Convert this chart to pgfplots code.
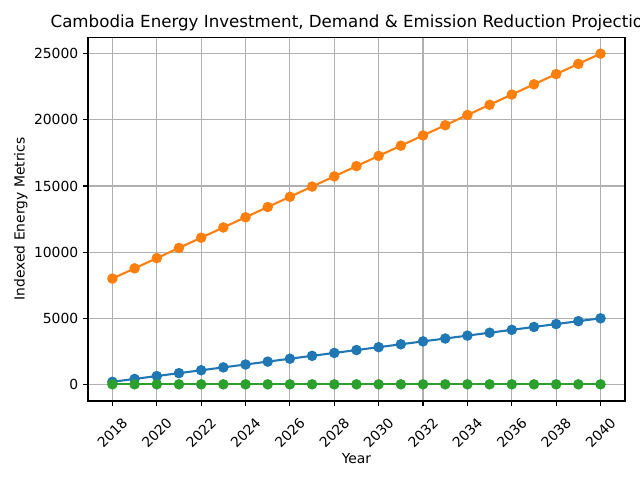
\documentclass[border=0pt]{standalone}
\usepackage{pgfplots}
\pgfplotsset{compat=1.18}
\usepackage{fontspec}
\setmainfont{DejaVu Sans}
\definecolor{c0}{HTML}{1F77B4}
\definecolor{c1}{HTML}{FF7F0E}
\definecolor{c2}{HTML}{2CA02C}
\definecolor{gridc}{HTML}{B0B0B0}
\begin{document}
\begin{tikzpicture}
\begin{axis}[
  at={(0,0)}, anchor=south west,
  scale only axis, width=386.6pt, height=262pt,
  xmin=2016.9, xmax=2041.1, ymin=-1250, ymax=26250,
  xtick={2018,2020,...,2040},
  ytick={0,5000,10000,15000,20000,25000},
  /pgf/number format/assume math mode=true,
  /pgf/number format/1000 sep={},
  xticklabel={\pgfmathprintnumber[1000 sep={},fixed]{\tick}},
  scaled y ticks=false,
  yticklabel style={/pgf/number format/1000 sep={}},
  tick align=outside, tick pos=left,
  major tick length=3.5pt,
  every tick/.style={black, line width=0.8pt},
  axis line style={line width=0.8pt},
  grid=major,
  major grid style={gridc, line width=0.8pt},
  tick label style={font=\fontsize{10}{12}\selectfont},
  xticklabel style={yshift=-19.4pt, rotate=45, anchor=center},
  label style={font=\fontsize{10}{12}\selectfont},
  xlabel={Year}, ylabel={Indexed Energy Metrics},
  xlabel style={at={(axis description cs:0.5,0)}, anchor=north, yshift=-34pt},
  ylabel style={yshift=-2.2pt},
  title={Cambodia Energy Investment, Demand \& Emission Reduction Projections},
  title style={font=\fontsize{12}{14.4}\selectfont, yshift=-5pt},
  every axis plot/.append style={line width=1.5pt, mark=*, mark size=3pt, mark options={solid}},
]
\addplot[c0, mark options={fill=c0, draw=c0}] coordinates {
(2018,200) (2019,418) (2020,636) (2021,855) (2022,1073) (2023,1291) (2024,1509) (2025,1727) (2026,1945) (2027,2164) (2028,2382) (2029,2600) (2030,2818) (2031,3036) (2032,3255) (2033,3473) (2034,3691) (2035,3909) (2036,4127) (2037,4345) (2038,4564) (2039,4782) (2040,5000)};
\addplot[c1, mark options={fill=c1, draw=c1}] coordinates {
(2018,8000) (2019,8773) (2020,9545) (2021,10318) (2022,11091) (2023,11864) (2024,12636) (2025,13409) (2026,14182) (2027,14955) (2028,15727) (2029,16500) (2030,17273) (2031,18045) (2032,18818) (2033,19591) (2034,20364) (2035,21136) (2036,21909) (2037,22682) (2038,23455) (2039,24227) (2040,25000)};
\addplot[c2, mark options={fill=c2, draw=c2}] coordinates {
(2018,10) (2019,10) (2020,10) (2021,10) (2022,10) (2023,10) (2024,10) (2025,10) (2026,10) (2027,10) (2028,10) (2029,10) (2030,10) (2031,10) (2032,10) (2033,10) (2034,10) (2035,10) (2036,10) (2037,10) (2038,10) (2039,10) (2040,10)};
\end{axis}
\pgfresetboundingbox
\path[use as bounding box] (-63.36pt,-56.88pt) rectangle (397.44pt,288.72pt);
\end{tikzpicture}
\end{document}
